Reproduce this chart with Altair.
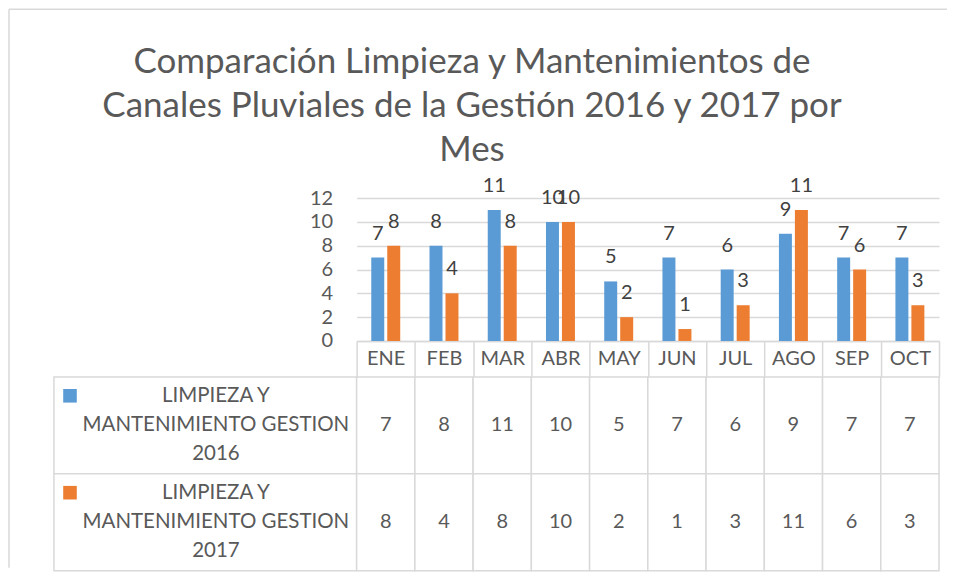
import altair as alt
import pandas as pd

months = ["ENE", "FEB", "MAR", "ABR", "MAY", "JUN", "JUL", "AGO", "SEP", "OCT"]
gestion_2016 = [7, 8, 11, 10, 5, 7, 6, 9, 7, 7]
gestion_2017 = [8, 4, 8, 10, 2, 1, 3, 11, 6, 3]
series_names = ["LIMPIEZA Y MANTENIMIENTO GESTION 2016",
                "LIMPIEZA Y MANTENIMIENTO GESTION 2017"]
series_labels = ["LIMPIEZA Y\nMANTENIMIENTO GESTION\n2016",
                 "LIMPIEZA Y\nMANTENIMIENTO GESTION\n2017"]
colors = ["#5B9BD5", "#ED7D31"]
title_lines = ["Comparación Limpieza y Mantenimientos de",
               "Canales Pluviales de la Gestión 2016 y 2017 por",
               "Mes"]
y_ticks = [0, 2, 4, 6, 8, 10, 12]

GRAY = "#595959"
LINE = "#d9d9d9"
FONT = "Lato"
FS = 20

rows = []
for name, vals in zip(series_names, [gestion_2016, gestion_2017]):
    for m, v in zip(months, vals):
        rows.append({"month": m, "series": name, "value": v})
df = pd.DataFrame(rows)
leg = pd.DataFrame({"series": series_names, "label": series_labels, "col": ["c", "c"]})

month_scale = alt.Scale(domain=months, paddingInner=0, paddingOuter=0)
series_color = alt.Color("series:N", scale=alt.Scale(domain=series_names, range=colors), legend=None)

# ---- bar chart ----
x_bar = alt.X("month:N", sort=months, scale=month_scale,
              axis=alt.Axis(title=None, labelAngle=0, labelFontSize=FS, labelColor=GRAY,
                            labelFont=FONT, labelBaseline="middle", labelPadding=-18,
                            ticks=True, tickBand="extent", tickSize=36, tickColor=LINE,
                            tickWidth=1.5, domain=True, domainColor=LINE, domainWidth=1.5,
                            grid=False))
y_bar = alt.Y("value:Q", scale=alt.Scale(domain=[0, 12], nice=False),
              axis=alt.Axis(title=None, values=y_ticks, labelFontSize=FS, labelColor=GRAY,
                            labelFont=FONT, labelPadding=24, ticks=False, domain=False,
                            grid=True, gridColor=LINE, gridWidth=1.5))
x_off = alt.XOffset("series:N", sort=series_names,
                    scale=alt.Scale(domain=series_names, paddingInner=0.1875, paddingOuter=0.916))

base = alt.Chart(df).encode(x=x_bar, y=y_bar, xOffset=x_off)
bars = base.mark_bar().encode(color=series_color)
labels = base.mark_text(dy=-18, baseline="alphabetic", fontSize=FS, font=FONT,
                        color="#404040").encode(text="value:Q")
bar_chart = alt.layer(bars, labels).properties(
    width=583, height=143,
    title=alt.Title(title_lines, anchor="middle", dx=-176, fontSize=35, font=FONT,
                    color=GRAY, fontWeight="normal", lineHeight=44, offset=8))

# ---- spacer with chart frame ----
frame_df = pd.DataFrame({"k": [0]})
top_rule = alt.Chart(frame_df).mark_rule(color=LINE, strokeWidth=1.5).encode(
    x=alt.value(-45), x2=alt.value(894), y=alt.value(-189))
left_rule = alt.Chart(frame_df).mark_rule(color=LINE, strokeWidth=1.5).encode(
    x=alt.value(-45), y=alt.value(-189), y2=alt.value(370))
spacer = alt.layer(top_rule, left_rule).properties(width=303, height=143)

# ---- legend column of data table ----
row_scale = alt.Scale(domain=series_names, paddingInner=0, paddingOuter=0)
col_scale = alt.Scale(paddingInner=0, paddingOuter=0)
leg_y = alt.Y("series:N", sort=series_names, scale=row_scale, axis=None)
leg_x = alt.X("col:N", scale=col_scale, axis=None)
leg_cells = alt.Chart(leg).mark_rect(fill="white", stroke=LINE, strokeWidth=1.5).encode(
    x=leg_x, y=leg_y)
leg_sw = alt.Chart(leg).mark_square(size=185, opacity=1).encode(
    x=alt.X("col:N", scale=col_scale, axis=None, bandPosition=0.053),
    y=alt.Y("series:N", sort=series_names, scale=row_scale, axis=None, bandPosition=0.195),
    color=series_color)
leg_txt = alt.Chart(leg).mark_text(lineBreak="\n", lineHeight=29, fontSize=20.5, font=FONT,
                                   color=GRAY, align="center", baseline="middle",
                                   dy=-29).encode(
    x=alt.X("col:N", scale=col_scale, axis=None, bandPosition=0.535),
    y=leg_y, text="label:N")
legend_col = alt.layer(leg_cells, leg_sw, leg_txt).properties(width=303, height=194)

# ---- data table values ----
tx = alt.X("month:N", sort=months, scale=month_scale, axis=None)
tab_cells = alt.Chart(df).mark_rect(fill="white", stroke=LINE, strokeWidth=1.5).encode(
    x=tx, y=leg_y)
tab_txt = alt.Chart(df).mark_text(fontSize=FS, font=FONT, color=GRAY, baseline="middle").encode(
    x=tx, y=leg_y, text="value:Q")
table = alt.layer(tab_cells, tab_txt).properties(width=583, height=194)

chart = alt.concat(spacer, bar_chart, legend_col, table, columns=2,
                   spacing={"row": 36, "column": 0}, bounds="flush", align="each").properties(
    padding={"left": 0, "top": 0, "right": 0, "bottom": 0},
    background="white"
).configure(font=FONT, view=alt.ViewConfig(stroke="transparent", strokeWidth=0))

chart.save("out.html", embed_options={"renderer": "svg", "actions": False})
